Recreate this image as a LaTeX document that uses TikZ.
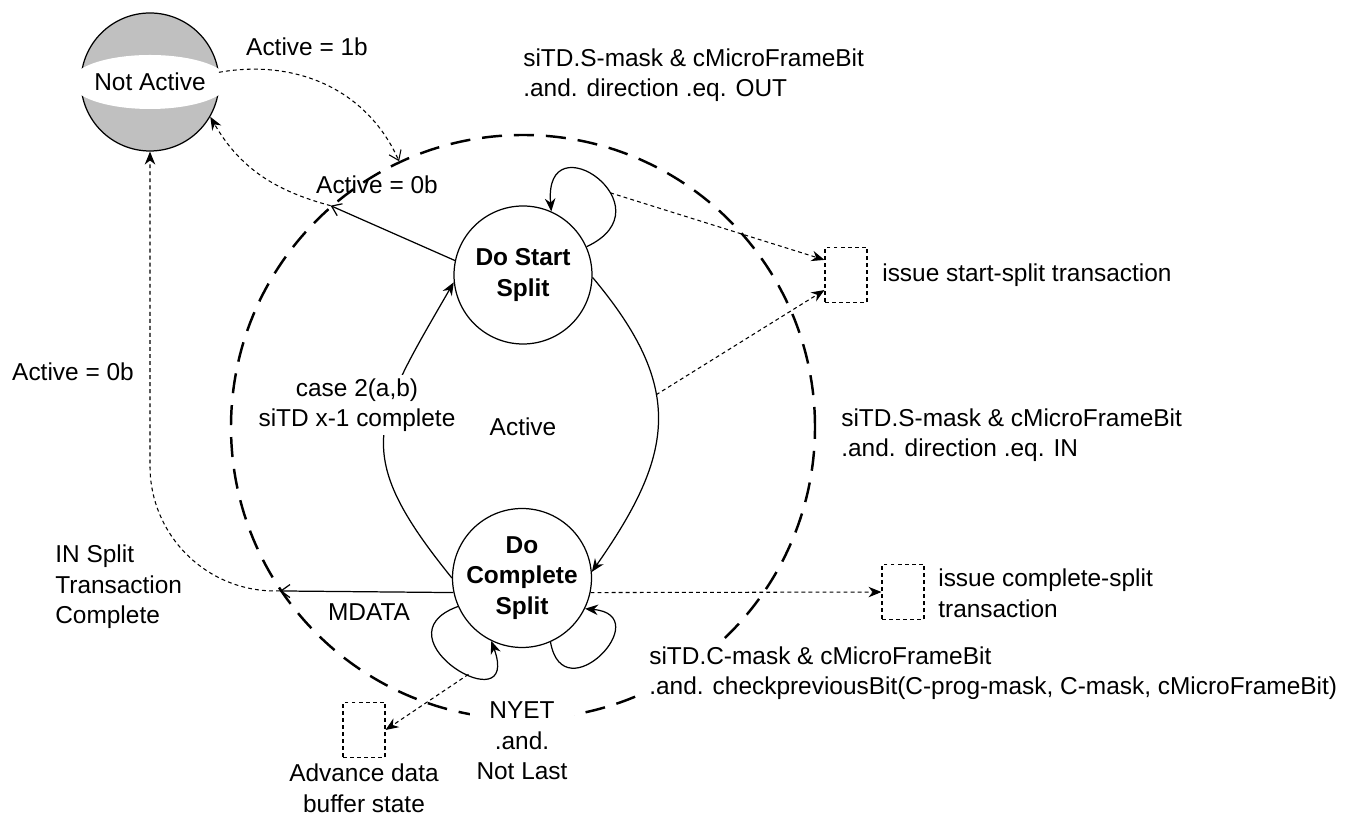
\documentclass[tikz,border=0pt]{standalone}
\usepackage{fontspec}
\setmainfont{Liberation Sans}
\usepackage{tikz}
\usetikzlibrary{arrows.meta,positioning,calc,shapes.geometric}
\definecolor{cInk}{HTML}{000000}
\definecolor{cShade}{HTML}{C0C0C0}
\newcommand\dfont{\fontsize{13.9}{17.4}\selectfont}
\tikzset{
  stnode/.style={circle,draw=cInk,line width=0.7pt,minimum size=2.76cm,inner sep=0pt,align=center,font=\dfont\bfseries},
  region/.style={circle,draw=cInk,line width=1.4pt,dash pattern=on 11.4pt off 6.8pt,minimum size=11.68cm,inner sep=0pt},
  actbox/.style={draw=cInk,line width=0.6pt,dash pattern=on 2.2pt off 1.8pt,minimum width=0.84cm,minimum height=1.1cm,inner sep=0pt},
  lbl/.style={inner sep=0pt,align=left,anchor=west},
  mlbl/.style={fill=white,align=center,inner sep=#1},
  mlbl/.default=2pt,
  arr/.style={-{Stealth[length=0.26cm,width=0.21cm]},line width=0.7pt,color=cInk},
  barr/.style={-{Straight Barb[length=0.18cm,width=0.26cm]},line width=0.7pt,color=cInk},
  darr/.style={-{Stealth[length=0.26cm,width=0.21cm]},line width=0.6pt,dash pattern=on 2.2pt off 1.8pt,color=cInk},
  dbarr/.style={-{Straight Barb[length=0.18cm,width=0.26cm]},line width=0.6pt,dash pattern=on 2.2pt off 1.8pt,color=cInk},
}

\begin{document}
\begin{tikzpicture}[x=1cm,y=1cm,font=\dfont]
  \useasboundingbox (0,0) rectangle (26.92,16.34);
  % states
  \node[region] (act) at (10.46,7.8) {Active};
  \node[mlbl=0.14cm] (nyet) at (10.44,1.52) {NYET\\.and.\\Not Last};
  \node[stnode,fill=cShade] (notact) at (3.0,14.7) {};
  \node[ellipse,fill=white,minimum width=2.48cm,minimum height=1.08cm,inner sep=0pt] (notlbl) at (notact) {Not Active};
  \node[stnode] (start) at (10.46,10.84) {Do Start\\Split};
  \node[stnode] (cmpl) at (10.44,4.78) {Do\\Complete\\Split};
  \node[actbox] (sbox) at (16.92,10.84) {};
  \node[actbox] (cbox) at (18.06,4.5) {};
  \node[actbox] (abox) at (7.28,1.74) {};
  \coordinate (a1) at (act.115);
  \coordinate (a0) at (act.131);
  \coordinate (md) at (act.214.5);
  % the C-mask text cuts the region border
  \node[lbl,fill=white,inner xsep=0.2cm,inner ysep=1pt] (cmlbl) at (12.78,2.88) {siTD.C-mask \& cMicroFrameBit\\.and. checkpreviousBit(C-prog-mask, C-mask, cMicroFrameBit)};

  % transitions
  \draw[dbarr] (notact.8) to[out=10,in=114] (a1);
  \draw[barr] (start.168) -- (a0);
  \draw[darr] (a0) to[out=165,in=-60] (notact.-30);
  \draw[arr] (cmpl.180) to[out=129,in=240,looseness=1.4] (start.186);
  \draw[arr] (start.-2) to[out=-50,in=55,looseness=1.25] coordinate[pos=.4] (rarc) (cmpl.5);
  \draw[arr] (start.24) to[out=25,in=95,looseness=4.8] coordinate[pos=.38] (sloop) (start.66);
  \draw[arr] (cmpl.204) to[out=200,in=290,looseness=4.8] coordinate[pos=.6] (lloop) (cmpl.244);
  \draw[arr] (cmpl.-66) to[out=-80,in=-5,looseness=3.9] (cmpl.-26);
  \draw[barr] (cmpl.-168) -- (md);
  \draw[darr,rounded corners=2.5cm] (md) -| (notact);
  \draw[darr] (sloop) -- (sbox.145);
  \draw[darr] (rarc) -- (sbox.215);
  \draw[darr] (cmpl.-12) -- (cbox);
  \draw[darr] (lloop) -- (abox.east);

  % labels
  \node (a1lbl) at (6.14,15.4) {Active = 1b};
  \node[lbl] (outlbl) at (10.46,14.84) {siTD.S-mask \& cMicroFrameBit\\.and. direction .eq. OUT};
  \node (a0lbl) at (7.54,12.64) {Active = 0b};
  \node[lbl] (sslbl) at (17.64,10.84) {issue start-split transaction};
  \node[mlbl] (caselbl) at (7.14,8.24) {case 2(a,b)\\siTD x-1 complete};
  \node[lbl] (inlbl) at (16.82,7.64) {siTD.S-mask \& cMicroFrameBit\\.and. direction .eq. IN};
  \node (a0left) at (1.46,8.9) {Active = 0b};
  \node (mdlbl) at (7.38,4.1) {MDATA};
  \node[lbl] (cslbl) at (18.76,4.48) {issue complete-split\\transaction};
  \node[lbl] (inslbl) at (1.1,4.6) {IN Split\\Transaction\\Complete};
  \node[align=center] (advlbl) at (7.28,0.58) {Advance data\\buffer state};
\end{tikzpicture}
\end{document}
